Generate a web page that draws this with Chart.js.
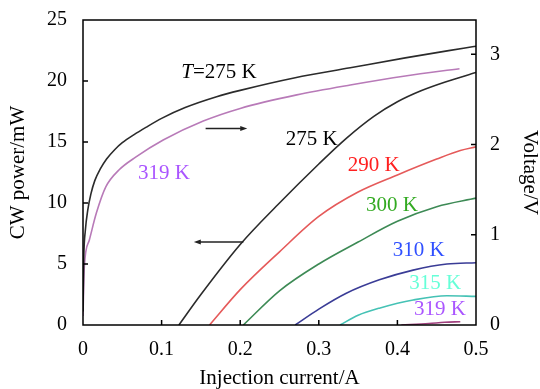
<!DOCTYPE html>
<html>
<head>
<meta charset="utf-8">
<script src="https://cdn.jsdelivr.net/npm/chart.js@4.4.1/dist/chart.umd.min.js"></script>
<style>
  body { margin: 0; background: #fff; }
  canvas { display: block; }
</style>
</head>
<body>
<canvas id="ivChart" width="540" height="389"></canvas>
<script>
// tick labels
const currentTicks = [0, 0.1, 0.2, 0.3, 0.4, 0.5];
const powerTicks = [0, 5, 10, 15, 20, 25];
const voltageTicks = [0, 1, 2, 3];

// V-I curves (right axis)
const v275I = [0, 0.001, 0.003, 0.006, 0.01, 0.015, 0.022, 0.03, 0.04, 0.05, 0.065, 0.08, 0.1, 0.13, 0.17, 0.2, 0.27, 0.34, 0.41, 0.486, 0.5];
const v275V = [0.15, 0.75, 1.05, 1.27, 1.45, 1.6, 1.73, 1.84, 1.94, 2.02, 2.11, 2.19, 2.29, 2.41, 2.53, 2.6, 2.74, 2.85, 2.96, 3.07, 3.09];
const v319I = [0, 0.0008, 0.0017, 0.008, 0.017, 0.029, 0.046, 0.067, 0.102, 0.153, 0.2, 0.272, 0.34, 0.41, 0.479];
const v319V = [0.1, 0.4, 0.65, 0.94, 1.24, 1.53, 1.72, 1.86, 2.05, 2.26, 2.4, 2.55, 2.66, 2.76, 2.84];

// P-I curves (left axis)
const p275I = [0.122, 0.15, 0.2, 0.25, 0.3, 0.335, 0.37, 0.4, 0.43, 0.46, 0.5];
const p275P = [0, 2.5, 6.6, 10.0, 13.2, 15.3, 17.1, 18.3, 19.2, 19.9, 20.7];
const p290I = [0.161, 0.2, 0.25, 0.3, 0.35, 0.4, 0.45, 0.48, 0.5];
const p290P = [0, 2.9, 6.0, 8.9, 10.9, 12.3, 13.6, 14.3, 14.6];
const p300I = [0.204, 0.25, 0.3, 0.35, 0.4, 0.45, 0.5];
const p300P = [0, 2.8, 5.0, 6.8, 8.5, 9.7, 10.4];
const p310I = [0.27, 0.3, 0.335, 0.377, 0.42, 0.463, 0.5];
const p310P = [0, 1.3, 2.6, 3.7, 4.5, 5.0, 5.1];
const p315I = [0.327, 0.35, 0.378, 0.42, 0.463, 0.5];
const p315P = [0, 0.8, 1.4, 2.05, 2.4, 2.35];
const p319I = [0.405, 0.44, 0.46, 0.48];
const p319P = [0, 0.12, 0.22, 0.27];

const zip = (xs, ys) => xs.map((x, i) => ({ x: x, y: ys[i] }));
const serif = '"Liberation Serif", "Times New Roman", serif';

function curve(xs, ys, color, axis) {
  return {
    data: zip(xs, ys),
    borderColor: color,
    borderWidth: 1.6,
    showLine: true,
    pointRadius: 0,
    cubicInterpolationMode: 'monotone',
    yAxisID: axis
  };
}

// keep the plot box where the reference has it
function noOverflow(s) {
  s.paddingTop = 0;
  s.paddingBottom = 0;
  s.paddingLeft = 0;
  s.paddingRight = 0;
}

// text on the plot, placed in (current, power) coordinates
const notes = [
  { text: '275 K', x: 0.291, y: 15.2, color: '#000' },
  { text: '290 K', x: 0.370, y: 13.1, color: '#ff2020' },
  { text: '300 K', x: 0.393, y: 9.8, color: '#33aa22' },
  { text: '310 K', x: 0.427, y: 6.1, color: '#3050ff' },
  { text: '315 K', x: 0.448, y: 3.4, color: '#66ffd8' },
  { text: '319 K', x: 0.454, y: 1.3, color: '#aa55ff' },
  { text: '319 K', x: 0.103, y: 12.4, color: '#aa55ff' }
];
const arrows = [
  { from: 0.156, to: 0.209, y: 16.1 },
  { from: 0.204, to: 0.141, y: 6.8 }
];

const framePlugin = {
  id: 'framePlugin',
  afterDraw(chart) {
    const { ctx, chartArea: a, scales } = chart;
    const sx = scales.x, sp = scales.y, sv = scales.y1;
    ctx.save();
    ctx.strokeStyle = '#000';
    ctx.lineWidth = 1.5;
    ctx.strokeRect(a.left, a.top, a.width, a.height);

    // inward tick marks
    ctx.beginPath();
    currentTicks.slice(1, -1).forEach(v => {
      const px = sx.getPixelForValue(v);
      ctx.moveTo(px, a.bottom); ctx.lineTo(px, a.bottom - 5);
    });
    powerTicks.slice(1, -1).forEach(v => {
      const py = sp.getPixelForValue(v);
      ctx.moveTo(a.left, py); ctx.lineTo(a.left + 5, py);
    });
    voltageTicks.slice(1).forEach(v => {
      const py = sv.getPixelForValue(v);
      ctx.moveTo(a.right, py); ctx.lineTo(a.right - 5, py);
    });
    ctx.stroke();

    // arrows
    ctx.strokeStyle = '#222';
    ctx.fillStyle = '#222';
    ctx.lineWidth = 1.5;
    arrows.forEach(ar => {
      const x0 = sx.getPixelForValue(ar.from), x1 = sx.getPixelForValue(ar.to);
      const py = sp.getPixelForValue(ar.y);
      const dir = Math.sign(x1 - x0);
      ctx.beginPath();
      ctx.moveTo(x0, py); ctx.lineTo(x1 - dir * 5, py);
      ctx.stroke();
      ctx.beginPath();
      ctx.moveTo(x1, py);
      ctx.lineTo(x1 - dir * 7, py - 2.5);
      ctx.lineTo(x1 - dir * 7, py + 2.5);
      ctx.closePath();
      ctx.fill();
    });

    // labels
    ctx.textBaseline = 'middle';
    ctx.textAlign = 'left';
    notes.forEach(n => {
      ctx.font = '21px ' + serif;
      ctx.fillStyle = n.color;
      const w = ctx.measureText(n.text).width;
      ctx.fillText(n.text, sx.getPixelForValue(n.x) - w / 2, sp.getPixelForValue(n.y));
    });

    // T=275 K with italic T
    const tx = sx.getPixelForValue(0.173), ty = sp.getPixelForValue(20.7);
    ctx.fillStyle = '#000';
    ctx.font = 'italic 21px ' + serif;
    const wT = ctx.measureText('T').width;
    ctx.font = '21px ' + serif;
    const wRest = ctx.measureText('=275 K').width;
    const start = tx - (wT + wRest) / 2;
    ctx.font = 'italic 21px ' + serif;
    ctx.fillText('T', start, ty);
    ctx.font = '21px ' + serif;
    ctx.fillText('=275 K', start + wT, ty);
    ctx.restore();
  }
};

const tickFont = { family: serif, size: 20 };
const titleFont = { family: serif, size: 21, lineHeight: 1 };

new Chart(document.getElementById('ivChart'), {
  type: 'scatter',
  data: {
    datasets: [
      curve(v275I, v275V, '#2b2b2b', 'y1'),
      curve(v319I, v319V, '#b87ab8', 'y1'),
      curve(p275I, p275P, '#2b2b2b', 'y'),
      curve(p290I, p290P, '#e55a5a', 'y'),
      curve(p300I, p300P, '#3d8a55', 'y'),
      curve(p310I, p310P, '#3a3c96', 'y'),
      curve(p315I, p315P, '#45c2b5', 'y'),
      curve(p319I, p319P, '#a0407e', 'y')
    ]
  },
  options: {
    responsive: false,
    animation: false,
    devicePixelRatio: 1,
    layout: { padding: { top: 20, left: 0, right: 0, bottom: 0 } },
    plugins: { legend: { display: false }, tooltip: { enabled: false } },
    scales: {
      x: {
        type: 'linear',
        min: 0,
        max: 0.5,
        afterBuildTicks: s => { s.ticks = currentTicks.map(v => ({ value: v })); },
        afterFit: s => { s.height = 64; noOverflow(s); },
        grid: { display: false, drawTicks: false },
        border: { display: false },
        ticks: { color: '#000', font: tickFont, padding: 13 },
        title: { display: true, text: 'Injection current/A', color: '#000', font: titleFont, padding: { top: 0, bottom: 0 } }
      },
      y: {
        position: 'left',
        min: 0,
        max: 25,
        afterBuildTicks: s => { s.ticks = powerTicks.map(v => ({ value: v })); },
        afterFit: s => { s.width = 83; noOverflow(s); },
        grid: { display: false, drawTicks: false },
        border: { display: false },
        ticks: { color: '#000', font: tickFont, padding: 16 },
        title: { display: true, text: 'CW power/mW', color: '#000', font: titleFont, padding: { top: 8, bottom: 0 } }
      },
      y1: {
        position: 'right',
        min: 0,
        max: 3.38,
        afterBuildTicks: s => { s.ticks = voltageTicks.map(v => ({ value: v })); },
        afterFit: s => { s.width = 64; noOverflow(s); },
        grid: { display: false, drawTicks: false },
        border: { display: false },
        ticks: { color: '#000', font: tickFont, padding: 14 },
        title: { display: true, text: 'Voltage/V', color: '#000', font: titleFont, padding: { top: 0, bottom: 0 } }
      }
    }
  },
  plugins: [framePlugin]
});
</script>
</body>
</html>
